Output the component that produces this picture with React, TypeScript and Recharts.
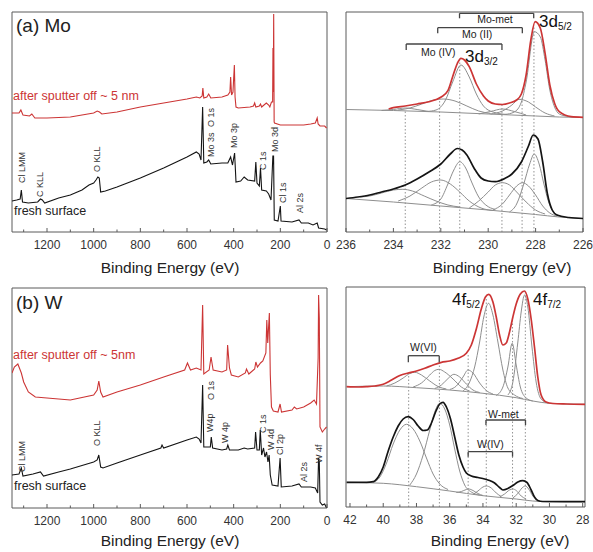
import { LineChart, Line, XAxis, YAxis, ReferenceArea, ReferenceLine } from "recharts";

type Pt = [number, number];

const FONT = '"Liberation Sans", Arial, sans-serif';
const RED = "#cc3535";
const BLACK = "#141414";
const GREY = "#8e8e8e";
const FRAME = "#5a5a5a";

// ---------- survey spectra: [binding energy eV, intensity] ----------
const moSputtered: Pt[] = [
	[1350, 119], [1320, 119], [1312, 122], [1303, 117], [1275, 116], [1265, 118], [1252, 114],
	[1200, 114], [1100, 115], [1000, 119], [985, 121], [975, 120], [965, 118], [900, 120],
	[800, 125], [700, 129], [600, 133], [560, 135], [545, 134], [535, 136], [532, 144],
	[528, 134], [515, 135], [507, 138], [498, 134], [450, 135], [425, 137], [416, 140],
	[413, 155], [409, 137], [403, 140], [397, 167], [394, 135], [390, 125], [380, 124],
	[330, 125], [315, 126], [310, 129], [305, 125], [290, 126], [285, 128], [280, 125],
	[260, 129], [250, 127], [245, 125], [238, 130], [233, 130], [231.5, 184], [230, 140],
	[228.5, 218], [226.5, 110], [225, 109], [200, 107], [100, 107], [70, 108], [50, 109],
	[42, 114], [38, 108], [30, 106], [10, 106], [2, 104],
];
const moFresh: Pt[] = [
	[1350, 31], [1330, 32], [1315, 33], [1310, 42], [1305, 30], [1280, 29], [1240, 30],
	[1228, 33], [1220, 32], [1210, 29], [1150, 34], [1100, 37], [1050, 42], [1020, 47],
	[1000, 49], [990, 52], [982, 55], [976, 54], [970, 40], [950, 41], [900, 45], [800, 54],
	[700, 64], [600, 75], [560, 80], [548, 78], [540, 72], [533, 125], [528, 69], [515, 70],
	[507, 72], [498, 68], [450, 69], [425, 69], [413, 75], [405, 67], [396, 79], [390, 50],
	[370, 51], [355, 55], [340, 52], [310, 51], [305, 70], [300, 49], [290, 46], [285, 64],
	[280, 42], [260, 41], [250, 38], [240, 32], [232, 76], [229, 76], [226, 12], [210, 11],
	[200, 26], [197, 11], [150, 10], [120, 12], [110, 9], [80, 9], [60, 7], [42, 9], [36, 4],
	[10, 3], [2, 2],
];
const wSputtered: Pt[] = [
	[1350, 135], [1340, 141], [1325, 144], [1310, 135], [1300, 126], [1280, 116], [1250, 111],
	[1200, 110], [1100, 108], [1000, 113], [985, 118], [978, 127], [970, 116], [960, 111],
	[900, 116], [800, 123], [700, 131], [610, 138], [598, 145], [585, 138], [560, 140],
	[540, 138], [533, 203], [528, 134], [505, 138], [497, 151], [488, 138], [450, 136],
	[430, 138], [426, 163], [418, 140], [410, 133], [380, 131], [350, 135], [345, 139],
	[335, 134], [310, 139], [305, 146], [298, 141], [285, 145], [275, 147], [262, 155],
	[258, 188], [254, 165], [247, 195], [243, 133], [238, 101], [230, 97], [210, 96],
	[201, 104], [195, 96], [150, 98], [140, 101], [130, 99], [100, 101], [70, 105], [55, 108],
	[45, 104], [38, 150], [36, 213], [33, 190], [30, 81], [20, 76], [10, 79], [2, 81],
];
const wFresh: Pt[] = [
	[1350, 33], [1320, 34], [1310, 40], [1303, 32], [1260, 34], [1228, 36], [1215, 32],
	[1150, 36], [1100, 39], [1000, 46], [985, 48], [978, 53], [970, 41], [960, 40], [900, 45],
	[800, 53], [712, 60], [707, 63], [700, 60], [600, 68], [560, 71], [548, 69], [540, 65],
	[533, 123], [528, 61], [500, 61], [496, 71], [490, 60], [450, 58], [430, 59], [425, 63],
	[418, 58], [380, 58], [355, 60], [340, 59], [310, 60], [306, 76], [300, 58], [290, 58],
	[286, 78], [280, 53], [272, 60], [266, 51], [259, 56], [253, 46], [248, 53], [243, 33],
	[235, 23], [210, 22], [201, 50], [196, 21], [150, 22], [120, 24], [110, 21], [70, 21],
	[50, 20], [40, 15], [36, 50], [33, 46], [30, 6], [20, 3], [10, 4], [2, 0],
];

// ---------- Mo 3d ----------
const mo3dSputEnv: Pt[] = [
	[234.2, 123], [234, 124.3], [233.5, 126], [233, 128], [232.5, 130.3], [232, 134.7],
	[231.7, 141.3], [231.5, 155.3], [231.3, 168.7], [231.15, 173.7], [231, 172], [230.8, 165.3],
	[230.5, 148], [230.2, 136], [230, 131], [229.7, 128], [229.4, 127.5], [229.1, 129],
	[228.8, 132], [228.6, 138], [228.4, 157], [228.2, 192], [228.02, 210.3], [227.8, 203.7],
	[227.6, 178.7], [227.4, 147], [227.2, 128.7], [227, 120.3], [226.5, 115.3], [226, 114.7],
];
const mo3dSputBase: Pt[] = [[236, 122.5], [234, 121.5], [232, 120], [230, 118], [229, 117], [228, 116], [227, 115], [226, 114.5]];
const mo3dSputMetA: Pt[] = [[232.6, 120.5], [232.2, 122], [231.8, 132], [231.5, 150], [231.15, 167], [230.8, 155], [230.5, 138], [230.2, 126], [229.8, 120], [229.2, 117.5]];
const mo3dSputMetB: Pt[] = [[229.3, 117.5], [228.9, 120], [228.6, 130], [228.4, 150], [228.05, 200.3], [227.8, 195], [227.6, 172], [227.4, 142], [227.2, 125], [227, 118], [226.6, 115.5]];
const mo3dSputIIA: Pt[] = [[233.8, 122], [233.3, 124], [232.8, 128], [232.3, 132], [231.9, 133], [231.4, 131], [230.9, 126], [230.4, 121], [229.9, 118.5]];
const mo3dSputIIB: Pt[] = [[229.9, 118], [229.4, 121], [229, 127], [228.7, 132.7], [228.3, 130], [228, 125], [227.6, 119], [227.2, 116]];
const mo3dSputIVA: Pt[] = [[234.5, 121.5], [234, 122.5], [233.5, 124], [233, 122.5], [232.5, 120.5]];
const mo3dSputIVB: Pt[] = [[230.4, 118], [229.9, 120.5], [229.4, 123], [228.9, 120.5], [228.4, 117]];

const mo3dFreshEnv: Pt[] = [
	[236, 33.5], [235.5, 35], [235, 37], [234.5, 40], [234, 43], [233.5, 47], [233, 53],
	[232.5, 60], [232, 68], [231.6, 78], [231.3, 83.5], [231.1, 82], [230.9, 77], [230.6, 64],
	[230.3, 54], [230, 51], [229.7, 50.3], [229.3, 53.5], [229, 58], [228.6, 70], [228.3, 86],
	[228.1, 97], [227.9, 93], [227.7, 70], [227.5, 38], [227.3, 22], [227.1, 17], [226.6, 14.5],
	[226, 13.5],
];
const mo3dFreshBase: Pt[] = [[236, 33.5], [234, 30], [232, 26], [230, 22], [228, 17.5], [227, 15], [226, 13.5]];
const mo3dFreshMetA: Pt[] = [[232.4, 27], [232, 33], [231.7, 48], [231.45, 62], [231.2, 70.3], [230.95, 64], [230.7, 50], [230.4, 35], [230.1, 27], [229.7, 22.5]];
const mo3dFreshMetB: Pt[] = [[229.1, 20], [228.8, 28], [228.5, 48], [228.25, 68], [228.06, 78], [227.85, 68], [227.65, 48], [227.45, 30], [227.2, 19], [226.9, 15.5]];
const mo3dFreshIIA: Pt[] = [[233.8, 31], [233.3, 36], [232.8, 44], [232.4, 50], [232, 52], [231.6, 48], [231.2, 40], [230.8, 31], [230.3, 24], [229.8, 21.5]];
const mo3dFreshIIB: Pt[] = [[229.8, 22], [229.4, 28], [229.1, 37], [228.8, 46], [228.55, 49.3], [228.3, 46], [228, 37], [227.7, 26], [227.4, 19], [227.1, 16]];
const mo3dFreshIVA: Pt[] = [[235.4, 35], [235, 36], [234.5, 39], [234, 42], [233.6, 42.7], [233.2, 41], [232.7, 36], [232.2, 31], [231.7, 27], [231.2, 25]];
const mo3dFreshIVB: Pt[] = [[230.8, 24], [230.4, 31], [230, 40], [229.7, 47], [229.4, 49.3], [229.1, 47], [228.8, 40], [228.4, 30], [228, 22], [227.6, 18]];

const mo3dGuides: Pt[] = [[233.5, 122], [232.05, 133], [231.2, 172], [229.42, 128], [228.57, 134], [228.07, 206]];
// [from, to, level, tick end]
const mo3dBrackets: [number, number, number, number][] = [
	[231.21, 228.08, 218.7, 213.7],
	[232.13, 228.56, 204.3, 198.7],
	[233.46, 229.42, 188, 182],
];

// ---------- W 4f ----------
const w4fSputEnv: Pt[] = [
	[42.2, 120.3], [41.5, 120], [41, 120.3], [40.5, 121], [40, 122.7], [39.5, 127], [39, 131.5],
	[38.5, 134], [38, 136], [37.5, 138.7], [37, 142], [36.5, 144.7], [36, 146], [35.5, 148.7],
	[35, 153.7], [34.7, 162], [34.4, 178], [34.1, 198], [33.85, 210], [33.65, 212.7],
	[33.4, 205], [33.2, 190], [33, 172], [32.8, 162], [32.6, 164], [32.4, 175], [32.2, 190],
	[32, 203], [31.75, 213], [31.5, 216], [31.3, 208], [31.1, 188], [30.9, 160], [30.7, 130],
	[30.5, 112], [30.2, 105], [29.8, 103.5], [29, 103], [27.86, 102.7],
];
const w4fSputBase: Pt[] = [[42.2, 120.3], [40, 121], [38, 119.3], [36, 117], [34, 113.7], [32, 109.3], [31, 106], [30, 103.7], [27.86, 102.7]];
const w4fSputVIA: Pt[] = [[39.8, 121], [39.3, 124], [38.8, 129], [38.4, 133.5], [38.1, 134.7], [37.7, 132], [37.2, 126], [36.7, 120.5], [36.2, 118]];
const w4fSputVIB: Pt[] = [[38.2, 120], [37.7, 124], [37.2, 132], [36.9, 136.5], [36.65, 137.7], [36.3, 135], [35.8, 128], [35.3, 120], [34.8, 116]];
const w4fSputC: Pt[] = [[36.9, 118.5], [36.5, 122], [36.1, 128.5], [35.75, 132.7], [35.4, 130], [35, 123], [34.6, 117], [34.2, 114.5]];
const w4fSputD: Pt[] = [[36, 117.5], [35.6, 121], [35.2, 130], [34.9, 137], [34.6, 134], [34.2, 124], [33.8, 116.5], [33.4, 113]];
const w4fSputMetA: Pt[] = [[35.2, 116], [34.8, 125], [34.5, 140], [34.2, 165], [33.95, 190], [33.66, 203.7], [33.4, 192], [33.1, 165], [32.8, 137], [32.5, 119], [32.1, 112], [31.6, 108.5]];
const w4fSputE: Pt[] = [[33.2, 111.5], [32.8, 120], [32.5, 140], [32.24, 163.7], [32, 142], [31.75, 120], [31.4, 109], [31, 106]];
const w4fSputMetB: Pt[] = [[32.5, 112], [32.2, 125], [31.9, 165], [31.7, 195], [31.5, 212], [31.3, 200], [31.05, 160], [30.8, 125], [30.5, 108], [30.1, 104]];

const w4fFreshEnv: Pt[] = [
	[42.2, 24.7], [41, 24.7], [40.6, 25.3], [40.3, 30], [40, 40], [39.7, 56], [39.4, 70],
	[39.1, 81], [38.8, 88], [38.5, 90.3], [38.2, 87.5], [37.9, 81], [37.6, 76.5], [37.35, 77],
	[37.1, 84], [36.85, 95], [36.6, 103], [36.4, 104.7], [36.2, 100], [35.95, 88], [35.7, 70],
	[35.45, 52], [35.2, 40], [35, 34], [34.7, 31], [34.3, 29.5], [33.9, 28], [33.6, 26.5],
	[33.3, 24], [33, 19.5], [32.8, 17], [32.5, 18.5], [32.2, 21.5], [31.9, 25], [31.6, 26.3],
	[31.35, 24.5], [31.1, 17], [30.9, 10], [30.7, 6.5], [30.4, 5.5], [29, 5.3], [27.86, 5.3],
];
const w4fFreshBase: Pt[] = [[42.2, 24.7], [40, 23.7], [38, 20.3], [36, 16], [34, 11.3], [32, 8], [31, 6], [30, 5.3], [27.86, 5.3]];
const w4fFreshA: Pt[] = [[40.6, 24.5], [40.2, 30], [39.8, 44], [39.4, 63], [39, 77], [38.6, 82.7], [38.2, 78], [37.8, 66], [37.4, 49], [37, 33], [36.6, 23], [36.1, 17.5]];
const w4fFreshB: Pt[] = [[38.4, 22], [38, 33], [37.6, 52], [37.2, 77], [36.9, 95], [36.6, 103.7], [36.3, 98], [36, 82], [35.7, 58], [35.4, 36], [35.1, 22], [34.7, 15], [34.2, 12]];
const w4fFreshC: Pt[] = [[35.6, 14.5], [35.3, 15.5], [35, 17.5], [34.85, 18], [34.6, 16.5], [34.3, 13.5], [34, 11.5]];
const w4fFreshD: Pt[] = [[34.6, 12.5], [34.3, 16], [34, 20], [33.8, 21], [33.5, 19], [33.2, 14], [32.9, 10.5]];
const w4fFreshE: Pt[] = [[33, 10], [32.7, 13], [32.4, 17], [32.2, 18], [32, 16.5], [31.7, 11], [31.4, 8]];
const w4fFreshF: Pt[] = [[32.2, 9], [31.9, 13.5], [31.65, 19], [31.45, 21], [31.25, 18], [31, 11], [30.7, 7]];

const w4fGuides: Pt[] = [[38.47, 134], [36.62, 145], [34.89, 153], [33.8, 210], [32.22, 190], [31.45, 215]];
const w4fBrackets: [number, number, number, number][] = [
	[38.49, 36.63, 151.3, 144.7],
	[33.82, 31.44, 87, 82],
	[34.89, 32.22, 55.3, 50.3],
];

// ---------- axes ----------
const surveyTicks = [1300, 1200, 1100, 1000, 900, 800, 700, 600, 500, 400, 300, 200, 100, 0];
const surveyMajors = [1200, 1000, 800, 600, 400, 200, 0];
const moTicks = [236, 235, 234, 233, 232, 231, 230, 229, 228, 227, 226];
const moMajors = [236, 234, 232, 230, 228, 226];
const wTicks = [42, 41, 40, 39, 38, 37, 36, 35, 34, 33, 32, 31, 30, 29, 28];
const wMajors = [42, 40, 38, 36, 34, 32, 30, 28];

const rows = (pts: Pt[]) => pts.map(([x, y]) => ({ x, y }));

type Series = { pts: Pt[]; color: string; w: number; curve: "linear" | "monotone" };

const makeTick = (majors: number[]) => (props: any) => {
	const { x, y, payload } = props;
	const major = majors.includes(payload.value);
	return (
		<g>
			<line x1={x} x2={x} y1={y} y2={y - (major ? 4 : 2.5)} stroke={FRAME} strokeWidth={1} />
			{major && (
				<text x={x} y={y + 17} textAnchor="middle" fontSize={12} fill="#333" fontFamily={FONT}>
					{payload.value}
				</text>
			)}
		</g>
	);
};

function Panel(p: {
	left: number;
	top: number;
	width: number;
	height: number;
	margin: { top: number; right: number; bottom: number; left: number };
	domain: [number, number];
	ticks: number[];
	majors: number[];
	series: Series[];
	guides?: Pt[];
	brackets?: [number, number, number, number][];
}) {
	return (
		<div style={{ position: "absolute", left: p.left, top: p.top }}>
			<LineChart width={p.width} height={p.height} margin={p.margin}>
				<XAxis
					type="number"
					dataKey="x"
					domain={p.domain}
					reversed
					allowDataOverflow
					ticks={p.ticks}
					interval={0}
					axisLine={false}
					tickLine={false}
					tickSize={0}
					tickMargin={0}
					height={30}
					tick={makeTick(p.majors)}
				/>
				<YAxis type="number" dataKey="y" domain={[0, 220]} allowDataOverflow hide />
				{(p.guides || []).map(([e, h], i) => (
					<ReferenceLine
						key={"g" + i}
						segment={[{ x: e, y: 0 }, { x: e, y: h }]}
						stroke="#777"
						strokeWidth={0.8}
						strokeDasharray="1.5 2"
					/>
				))}
				{p.series.map((s, i) => (
					<Line
						key={i}
						data={rows(s.pts)}
						dataKey="y"
						type={s.curve}
						stroke={s.color}
						strokeWidth={s.w}
						dot={false}
						activeDot={false}
						isAnimationActive={false}
					/>
				))}
				{(p.brackets || []).flatMap(([a, b, lv, end], i) => [
					<ReferenceLine key={"b" + i} segment={[{ x: a, y: lv }, { x: b, y: lv }]} stroke="#444" strokeWidth={1.3} />,
					<ReferenceLine key={"l" + i} segment={[{ x: a, y: lv }, { x: a, y: end }]} stroke="#444" strokeWidth={1.3} />,
					<ReferenceLine key={"r" + i} segment={[{ x: b, y: lv }, { x: b, y: end }]} stroke="#444" strokeWidth={1.3} />,
				])}
				<ReferenceArea x1={p.domain[0]} x2={p.domain[1]} y1={0} y2={220} fill="none" stroke={FRAME} strokeWidth={1} />
			</LineChart>
		</div>
	);
}

function T(p: { x: number; y: number; size: number; color?: string; children: any; center?: boolean }) {
	return (
		<div
			style={{
				position: "absolute",
				left: p.x,
				top: p.y,
				fontSize: p.size,
				lineHeight: 1,
				color: p.color || "#222",
				whiteSpace: "nowrap",
				transform: p.center ? "translateX(-50%)" : undefined,
			}}
		>
			{p.children}
		</div>
	);
}

function V(p: { x: number; y: number; children: string }) {
	return (
		<div
			style={{
				position: "absolute",
				left: p.x,
				top: p.y,
				fontSize: 9,
				lineHeight: "9px",
				color: "#333",
				whiteSpace: "nowrap",
				transform: "rotate(-90deg)",
				transformOrigin: "left top",
			}}
		>
			{p.children}
		</div>
	);
}

function Orb(p: { x: number; y: number; main: string; sub: string }) {
	return (
		<div style={{ position: "absolute", left: p.x, top: p.y, fontSize: 17, lineHeight: 1, color: "#111", whiteSpace: "nowrap" }}>
			{p.main}
			<span style={{ fontSize: 10, position: "relative", top: 3 }}>{p.sub}</span>
		</div>
	);
}

const fit = (pts: Pt[], color = GREY, w = 1): Series => ({ pts, color, w, curve: "monotone" });

export default function App() {
	return (
		<div style={{ position: "absolute", left: 0, top: 0, width: 593, height: 552, background: "#fff", fontFamily: FONT, overflow: "hidden" }}>
			<Panel
				left={0}
				top={0}
				width={340}
				height={275}
				margin={{ top: 12, right: 13, bottom: 13, left: 12 }}
				domain={[0, 1350]}
				ticks={surveyTicks}
				majors={surveyMajors}
				series={[
					{ pts: moSputtered, color: RED, w: 1.1, curve: "linear" },
					{ pts: moFresh, color: BLACK, w: 1.1, curve: "linear" },
				]}
			/>
			<Panel
				left={330}
				top={0}
				width={263}
				height={275}
				margin={{ top: 12, right: 10, bottom: 13, left: 16 }}
				domain={[226, 236]}
				ticks={moTicks}
				majors={moMajors}
				guides={mo3dGuides}
				brackets={mo3dBrackets}
				series={[
					fit(mo3dSputBase), fit(mo3dSputIVA), fit(mo3dSputIVB), fit(mo3dSputIIA), fit(mo3dSputIIB),
					fit(mo3dSputMetA), fit(mo3dSputMetB), fit(mo3dSputEnv, RED, 1.7),
					fit(mo3dFreshBase), fit(mo3dFreshIVA), fit(mo3dFreshIVB), fit(mo3dFreshIIA), fit(mo3dFreshIIB),
					fit(mo3dFreshMetA), fit(mo3dFreshMetB), fit(mo3dFreshEnv, BLACK, 1.7),
				]}
			/>
			<Panel
				left={0}
				top={275}
				width={340}
				height={277}
				margin={{ top: 13, right: 13, bottom: 14, left: 12 }}
				domain={[0, 1350]}
				ticks={surveyTicks}
				majors={surveyMajors}
				series={[
					{ pts: wSputtered, color: RED, w: 1.1, curve: "linear" },
					{ pts: wFresh, color: BLACK, w: 1.1, curve: "linear" },
				]}
			/>
			<Panel
				left={330}
				top={275}
				width={263}
				height={277}
				margin={{ top: 12, right: 8, bottom: 15, left: 16 }}
				domain={[27.86, 42.24]}
				ticks={wTicks}
				majors={wMajors}
				guides={w4fGuides}
				brackets={w4fBrackets}
				series={[
					fit(w4fSputBase), fit(w4fSputVIA), fit(w4fSputVIB), fit(w4fSputC), fit(w4fSputD),
					fit(w4fSputMetA), fit(w4fSputE), fit(w4fSputMetB), fit(w4fSputEnv, RED, 1.7),
					fit(w4fFreshBase), fit(w4fFreshA), fit(w4fFreshB), fit(w4fFreshC), fit(w4fFreshD),
					fit(w4fFreshE), fit(w4fFreshF), fit(w4fFreshEnv, BLACK, 1.7),
				]}
			/>

			{/* survey (a) */}
			<T x={16} y={16} size={19}>(a) Mo</T>
			<T x={13} y={90} size={12.5} color={RED}>after sputter off ~ 5 nm</T>
			<T x={14} y={205} size={12.5}>fresh surface</T>
			<V x={18} y={183}>Cl LMM</V>
			<V x={36} y={197}>C KLL</V>
			<V x={93} y={172}>O KLL</V>
			<V x={207} y={127}>O 1s</V>
			<V x={207} y={157}>Mo 3s</V>
			<V x={230} y={148}>Mo 3p</V>
			<V x={259} y={170}>C 1s</V>
			<V x={271} y={152}>Mo 3d</V>
			<V x={279} y={203}>Cl 1s</V>
			<V x={296} y={213}>Al 2s</V>

			{/* survey (b) */}
			<T x={16} y={293} size={19}>(b) W</T>
			<T x={13} y={349} size={12.5} color={RED}>after sputter off ~ 5nm</T>
			<T x={14} y={480} size={12.5}>fresh surface</T>
			<V x={18} y={472}>Cl LMM</V>
			<V x={93} y={446}>O KLL</V>
			<V x={207} y={400}>O 1s</V>
			<V x={206} y={432}>W4p</V>
			<V x={221} y={443}>W 4p</V>
			<V x={259} y={433}>C 1s</V>
			<V x={267} y={450}>W 4d</V>
			<V x={276} y={455}>Cl 2p</V>
			<V x={300} y={482}>Al 2s</V>
			<V x={315} y={463}>W 4f</V>

			{/* Mo 3d */}
			<T x={495} y={13.5} size={10.5} center>Mo-met</T>
			<T x={462} y={28.5} size={10.5}>Mo (II)</T>
			<T x={421} y={46.5} size={10.5}>Mo (IV)</T>
			<Orb x={465} y={48} main="3d" sub="3/2" />
			<Orb x={539} y={13} main="3d" sub="5/2" />

			{/* W 4f */}
			<Orb x={452} y={290.5} main="4f" sub="5/2" />
			<Orb x={533} y={290.5} main="4f" sub="7/2" />
			<T x={410} y={341.5} size={10.5}>W(VI)</T>
			<T x={488} y={408.5} size={10.5}>W-met</T>
			<T x={477} y={438.5} size={10.5}>W(IV)</T>

			<T x={170} y={260} size={15.5} center>Binding Energy (eV)</T>
			<T x={502} y={260} size={15.5} center>Binding Energy (eV)</T>
			<T x={170} y={533} size={15.5} center>Binding Energy (eV)</T>
			<T x={500} y={533} size={15.5} center>Binding Energy (eV)</T>
		</div>
	);
}
